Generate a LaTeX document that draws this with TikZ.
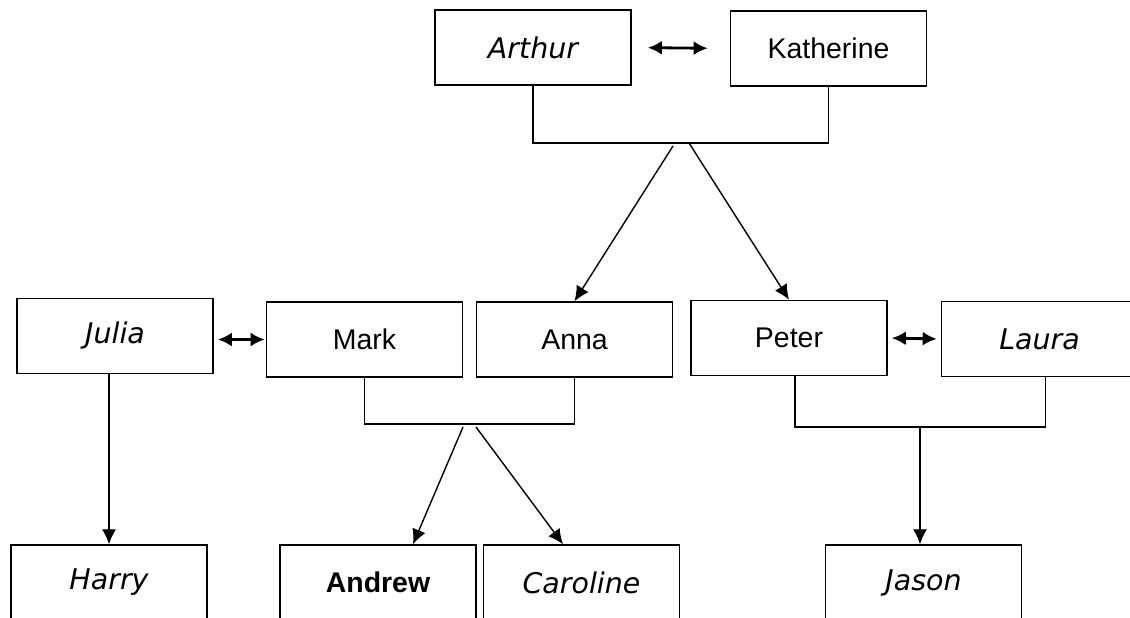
\documentclass[tikz,border=0pt]{standalone}
\usepackage{fontspec}
\setmainfont{Liberation Sans}
\newfontfamily\handfont{DejaVu Sans}
\usetikzlibrary{arrows.meta}

\begin{document}
\begin{tikzpicture}[>={Latex[length=8.5pt,width=8pt]}, line width=.8pt,
    person/.style={draw, line width=.9pt, minimum width=3.92cm, minimum height=1.5cm, inner sep=0pt, font=\fontsize{16.2}{19}\selectfont},
    hand/.style={person, font=\handfont\itshape\fontsize{16.2}{19}\selectfont},
    spouse/.style={{Latex[length=8pt,width=8pt]}-{Latex[length=8pt,width=8pt]}, line width=1.6pt}]
    \clip (0,0) rectangle (22.6,-12.36);
    % parents
    \node[hand] (arthur) at (10.66,-.95){Arthur};
    \node[person] (katherine) at (16.57,-.97){Katherine};
    \draw[spouse, shorten <=.32cm, shorten >=.44cm] (arthur.east)--(katherine.west);
    \coordinate (ak) at (13.62,-2.86);
    \draw (arthur.south) |- (ak) -| (katherine.south);

    % second row
    \node[hand] (julia) at (2.30,-6.72){Julia};
    \node[person] (mark) at (7.29,-6.79){Mark};
    \node[person] (anna) at (11.49,-6.79){Anna};
    \node[person] (peter) at (15.78,-6.76){Peter};
    \node[hand] (laura) at (20.79,-6.78){Laura};
    \draw[->] ([xshift=-.16cm,yshift=-.06cm]ak)--(anna.north);
    \draw[->] ([xshift=.16cm]ak)--(peter.north);
    \draw[spouse, shorten <=.08cm, shorten >=.02cm] (julia.east |- mark)--(mark.west);
    \draw[spouse, shorten <=.08cm, shorten >=.08cm] (peter.east)--(laura.west);

    % children
    \node[hand] (harry) at (2.18,-11.65){Harry};
    \node[person, font=\bfseries\fontsize{16.2}{19}\selectfont] (andrew) at (7.56,-11.65){Andrew};
    \node[hand] (caroline) at (11.63,-11.65){Caroline};
    \node[hand] (jason) at (18.47,-11.65){Jason};

    \draw[->] (harry.north |- julia.south)--(harry.north);

    \coordinate (ma) at (9.39,-8.48);
    \draw (mark.south) |- (ma) -| (anna.south);
    \draw[->] ([xshift=-.13cm,yshift=-.06cm]ma)--([xshift=.7cm]andrew.north);
    \draw[->] ([xshift=.13cm,yshift=-.06cm]ma)--([xshift=-.37cm]caroline.north);

    \coordinate (pl) at (18.4,-8.54);
    \draw ([xshift=.12cm]peter.south) |- (pl) -| ([xshift=.12cm]laura.south);
    \draw[->] (pl)--(pl |- jason.north);
\end{tikzpicture}
\end{document}
